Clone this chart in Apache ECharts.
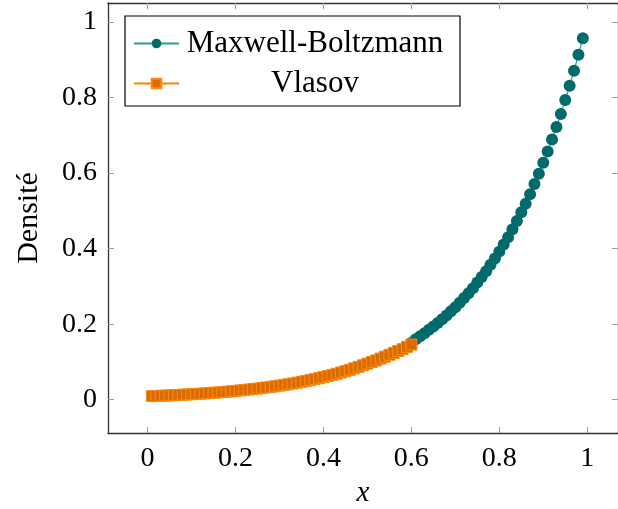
<!DOCTYPE html>
<html>
<head>
<meta charset="utf-8">
<script src="https://cdn.jsdelivr.net/npm/echarts@6/dist/echarts.min.js"></script>
<style>
  html, body { margin: 0; padding: 0; background: #fff; }
  #main { width: 618px; height: 509px; }
</style>
</head>
<body>
<div id="main"></div>
<script>
// valeurs
var vlasovX = [0.01, 0.02, 0.03, 0.04, 0.05, 0.06, 0.07, 0.08, 0.09, 0.10,
  0.11, 0.12, 0.13, 0.14, 0.15, 0.16, 0.17, 0.18, 0.19, 0.20,
  0.21, 0.22, 0.23, 0.24, 0.25, 0.26, 0.27, 0.28, 0.29, 0.30,
  0.31, 0.32, 0.33, 0.34, 0.35, 0.36, 0.37, 0.38, 0.39, 0.40,
  0.41, 0.42, 0.43, 0.44, 0.45, 0.46, 0.47, 0.48, 0.49, 0.50,
  0.51, 0.52, 0.53, 0.54, 0.55, 0.56, 0.57, 0.58, 0.59, 0.60];
var vlasovY = [0.0096, 0.0100, 0.0105, 0.0110, 0.0115, 0.0121, 0.0127, 0.0133, 0.0139, 0.0146,
  0.0153, 0.0160, 0.0168, 0.0176, 0.0185, 0.0193, 0.0203, 0.0212, 0.0223, 0.0234,
  0.0245, 0.0257, 0.0269, 0.0282, 0.0295, 0.0310, 0.0325, 0.0340, 0.0356, 0.0374,
  0.0392, 0.0410, 0.0430, 0.0451, 0.0473, 0.0495, 0.0519, 0.0544, 0.0570, 0.0598,
  0.0627, 0.0657, 0.0688, 0.0721, 0.0756, 0.0792, 0.0831, 0.0871, 0.0912, 0.0956,
  0.100, 0.104, 0.109, 0.114, 0.119, 0.124, 0.129, 0.134, 0.140, 0.146];

var mbX = [0.60, 0.61, 0.62, 0.63, 0.64, 0.65, 0.66, 0.67, 0.68, 0.69,
  0.70, 0.71, 0.72, 0.73, 0.74, 0.75, 0.76, 0.77, 0.78, 0.79,
  0.80, 0.81, 0.82, 0.83, 0.84, 0.85, 0.86, 0.87, 0.88, 0.89,
  0.90, 0.91, 0.92, 0.93, 0.94, 0.95, 0.96, 0.97, 0.98, 0.99];
var mbY = [0.150, 0.160, 0.168, 0.176, 0.185, 0.194, 0.203, 0.213, 0.223, 0.234,
  0.245, 0.257, 0.269, 0.282, 0.295, 0.310, 0.325, 0.340, 0.357, 0.374,
  0.392, 0.411, 0.430, 0.451, 0.473, 0.496, 0.519, 0.544, 0.571, 0.598,
  0.627, 0.657, 0.689, 0.722, 0.756, 0.793, 0.831, 0.871, 0.913, 0.957];

var xTicks = [0, 0.2, 0.4, 0.6, 0.8, 1];
var yTicks = [0, 0.2, 0.4, 0.6, 0.8, 1];

function pairs (xs, ys) {
  return xs.map(function (x, i) { return [x, ys[i]]; });
}

var font = 'Liberation Serif';
var tickStyle = { show: true, inside: true, length: 6, lineStyle: { color: '#9a9a9a', width: 1 } };

function xAxisDef (pos, labels) {
  return {
    type: 'value', position: pos, min: -0.09, max: 1.07,
    axisLine: { show: true, onZero: false, lineStyle: { color: '#333', width: 1.3 } },
    axisTick: Object.assign({}, tickStyle, { customValues: xTicks }),
    axisLabel: { show: labels, customValues: xTicks, margin: 12, color: '#000',
      fontFamily: font, fontSize: 28 },
    splitLine: { show: false },
    name: labels ? 'x' : '', nameLocation: 'middle', nameGap: 46,
    nameTextStyle: { fontFamily: font, fontStyle: 'italic', fontSize: 29, color: '#000' }
  };
}
function yAxisDef (pos, labels) {
  return {
    type: 'value', position: pos, min: -0.088, max: 1.05,
    axisLine: { show: true, onZero: false, lineStyle: { color: '#333', width: 1.3 } },
    axisTick: Object.assign({}, tickStyle, { customValues: yTicks }),
    axisLabel: { show: labels, customValues: yTicks, margin: 11, color: '#000',
      fontFamily: font, fontSize: 28 },
    splitLine: { show: false },
    name: labels ? 'Densité' : '', nameLocation: 'middle', nameGap: 64,
    nameTextStyle: { fontFamily: font, fontSize: 30, color: '#000' }
  };
}

var myChart = echarts.init(document.getElementById('main'));
var option = {
  animation: false,
  grid: { left: 108, right: 0, top: 3, bottom: 76, outerBoundsMode: 'none' },
  legend: {
    left: 125, top: 16, orient: 'vertical',
    borderColor: '#000', borderWidth: 1.2, padding: [12, 14, 7, 8],
    itemWidth: 45, itemHeight: 12, itemGap: 9,
    formatter: '{c|{name}}',
    textStyle: { rich: { c: { width: 262, align: 'center', fontFamily: font, fontSize: 31, lineHeight: 28, color: '#000' } } },
    data: ['Maxwell-Boltzmann', 'Vlasov']
  },
  xAxis: [xAxisDef('bottom', true), xAxisDef('top', false)],
  yAxis: [yAxisDef('left', true), yAxisDef('right', false)],
  series: [
    {
      name: 'Maxwell-Boltzmann', type: 'line', data: pairs(mbX, mbY),
      symbol: 'circle', symbolSize: 12, showAllSymbol: true,
      lineStyle: { color: '#2a9d9a', width: 1.2 },
      itemStyle: { color: '#006b6a', borderWidth: 0 }
    },
    {
      name: 'Vlasov', type: 'line', data: pairs(vlasovX, vlasovY),
      symbol: 'rect', symbolSize: 11, showAllSymbol: true,
      lineStyle: { color: '#ff8000', width: 1.2 },
      itemStyle: { color: '#d96c00', borderColor: '#ff8a10', borderWidth: 1 }
    }
  ]
};
myChart.setOption(option);
</script>
</body>
</html>
